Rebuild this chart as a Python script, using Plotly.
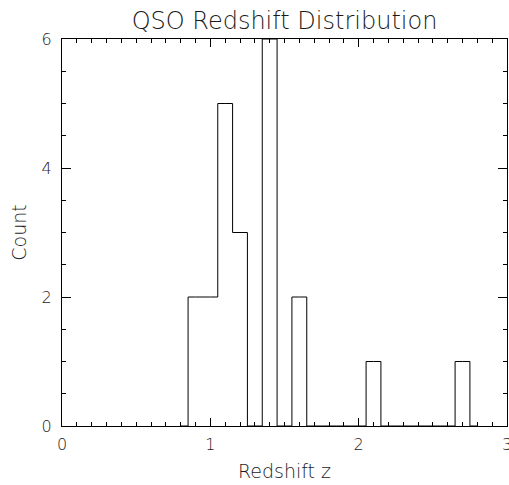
import plotly.graph_objects as go

# Histogram of QSO redshifts (bin width 0.1)
bin_centers = [0.8, 0.9, 1.0, 1.1, 1.2, 1.3, 1.4, 1.5, 1.6, 1.7, 1.8, 1.9, 2.0,
               2.1, 2.2, 2.3, 2.4, 2.5, 2.6, 2.7, 2.8]
counts = [0, 2, 2, 5, 3, 0, 6, 0, 2, 0, 0, 0, 0,
          1, 0, 0, 0, 0, 0, 1, 0]

x_ticks = [0, 1, 2, 3]
y_ticks = [0, 2, 4, 6]

title_text = "QSO Redshift Distribution"
x_title = "Redshift z"
y_title = "Count"

FONT = "DejaVu Sans"
TXT = "#1a1a1a"

fig = go.Figure()
fig.add_trace(go.Scatter(
    x=bin_centers, y=counts, mode="lines",
    line=dict(shape="hvh", color="black", width=1),
    showlegend=False, hoverinfo="skip",
))

fig.update_layout(
    width=509, height=485,
    margin=dict(l=62, r=2, t=39, b=59, autoexpand=False),
    paper_bgcolor="white", plot_bgcolor="white",
    font=dict(family=FONT, color=TXT, weight=200),
    title=dict(text=title_text, x=0.5, xref="paper", xanchor="center",
               y=1 - 21 / 485, yref="container", yanchor="middle",
               font=dict(family=FONT, size=24, color=TXT, weight=200)),
)

fig.update_xaxes(
    range=[0, 3], tickvals=x_ticks, ticktext=[str(v) for v in x_ticks],
    showgrid=False, zeroline=False, automargin=False,
    showline=True, linecolor="black", linewidth=1, mirror="allticks",
    ticks="inside", ticklen=8, tickwidth=1, tickcolor="black",
    minor=dict(dtick=0.1, ticks="inside", ticklen=4, tickwidth=1, tickcolor="black", showgrid=False),
    tickfont=dict(family=FONT, size=16, color=TXT, weight=200),
    ticklabeloverflow="allow", ticklabelstandoff=4,
    title=dict(text=x_title, font=dict(family=FONT, size=19, color=TXT, weight=200), standoff=11),
)
fig.update_yaxes(
    range=[0, 6], tickvals=y_ticks, ticktext=[str(v) for v in y_ticks],
    showgrid=False, zeroline=False, automargin=False,
    showline=True, linecolor="black", linewidth=1, mirror="allticks",
    ticks="inside", ticklen=9, tickwidth=1, tickcolor="black",
    minor=dict(dtick=0.5, ticks="inside", ticklen=4, tickwidth=1, tickcolor="black", showgrid=False),
    tickfont=dict(family=FONT, size=16, color=TXT, weight=200),
    ticklabelstandoff=6,
    title=dict(text=y_title, font=dict(family=FONT, size=19, color=TXT, weight=200), standoff=9),
)

fig.write_html("out.html")
